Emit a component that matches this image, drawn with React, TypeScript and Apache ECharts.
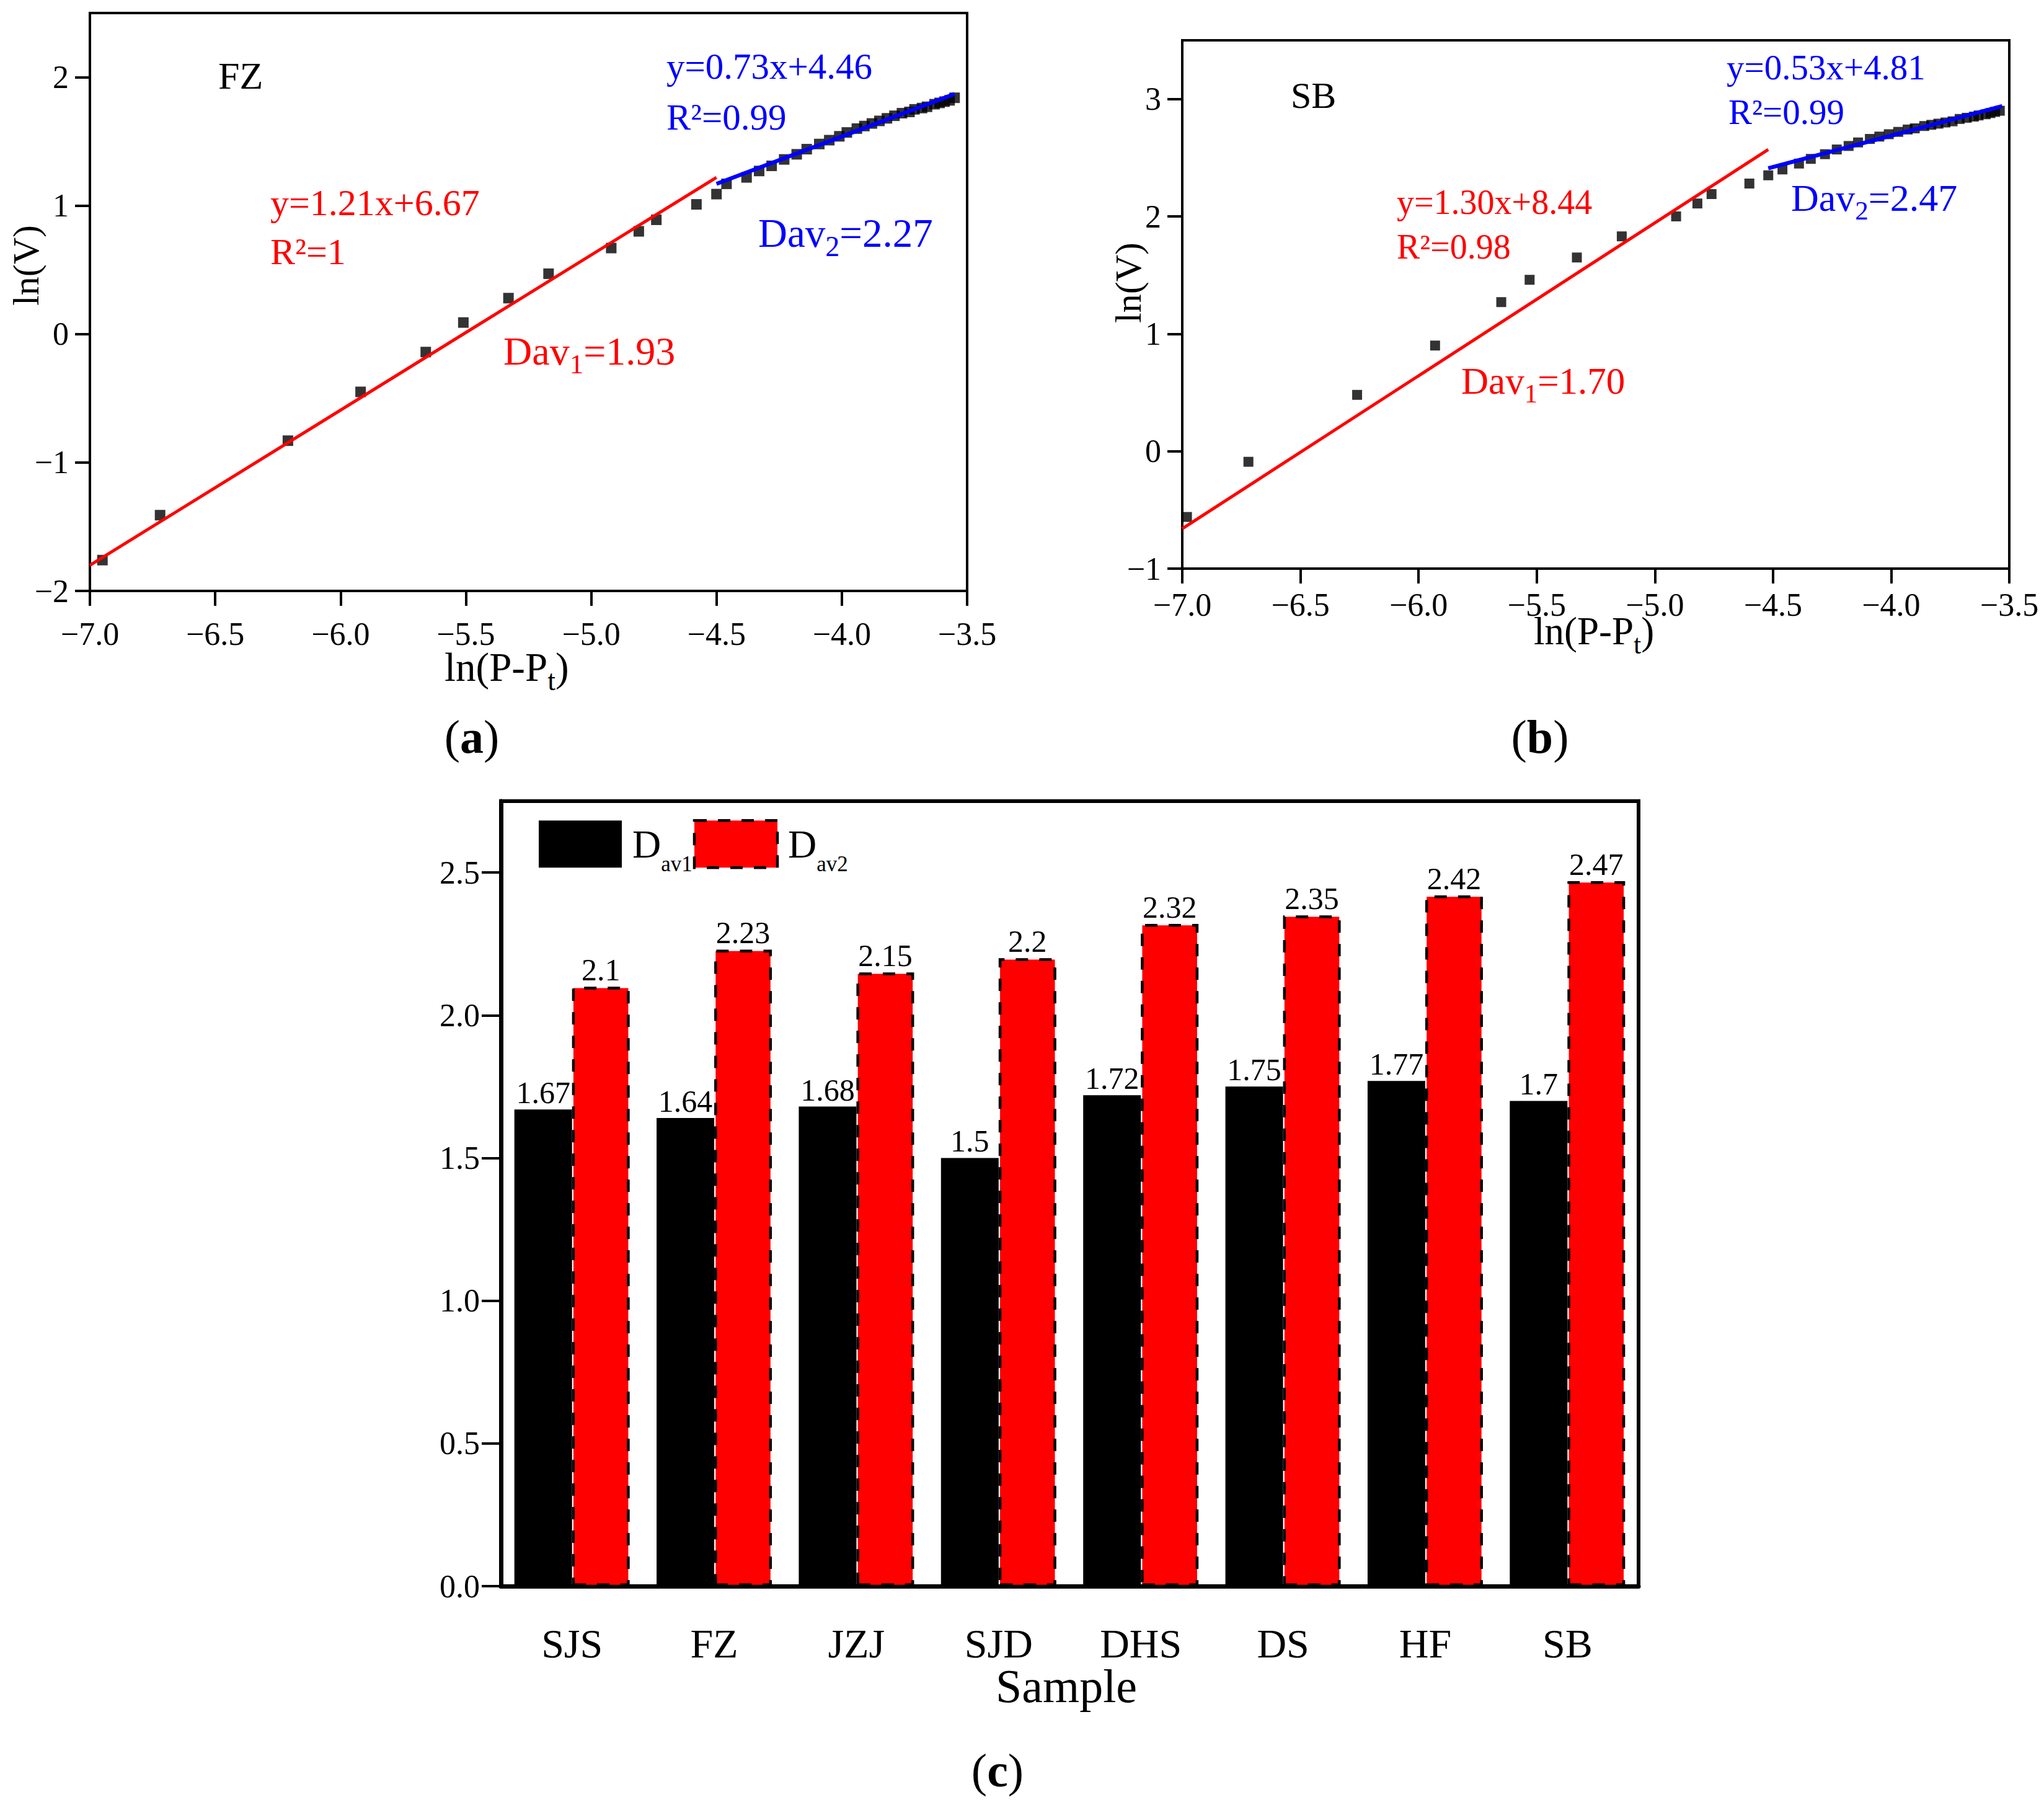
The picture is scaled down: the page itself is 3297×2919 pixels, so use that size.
import { useEffect, useRef } from 'react'
import * as echarts from 'echarts'

const FONT = "'Liberation Serif', 'Times New Roman', serif"

// (a) FZ: ln(P-Pt) vs ln(V)
const fzX = [-6.95, -6.72, -6.21, -5.92, -5.66, -5.51, -5.33, -5.17, -4.92, -4.81, -4.74, -4.58, -4.50, -4.46, -4.38, -4.33, -4.28, -4.23, -4.18, -4.14, -4.09, -4.05, -4.01, -3.98, -3.94, -3.91, -3.88, -3.85, -3.82, -3.79, -3.76, -3.73, -3.71, -3.68, -3.66, -3.63, -3.61, -3.59, -3.57, -3.55]
const fzY = [-1.76, -1.41, -0.83, -0.45, -0.14, 0.09, 0.28, 0.47, 0.67, 0.80, 0.89, 1.01, 1.09, 1.17, 1.22, 1.27, 1.31, 1.36, 1.40, 1.44, 1.48, 1.51, 1.54, 1.57, 1.60, 1.62, 1.64, 1.66, 1.68, 1.70, 1.72, 1.73, 1.75, 1.76, 1.77, 1.79, 1.80, 1.81, 1.82, 1.84]
const fzFitLow = [[-7.0, -1.80], [-4.50, 1.22]]
const fzFitHigh = [[-4.50, 1.17], [-3.55, 1.87]]

// (b) SB
const sbX = [-6.98, -6.72, -6.26, -5.93, -5.65, -5.53, -5.33, -5.14, -4.91, -4.82, -4.76, -4.60, -4.52, -4.46, -4.39, -4.34, -4.28, -4.23, -4.18, -4.14, -4.09, -4.05, -4.01, -3.97, -3.93, -3.90, -3.86, -3.83, -3.80, -3.77, -3.74, -3.71, -3.68, -3.65, -3.63, -3.60, -3.58, -3.56, -3.54]
const sbY = [-0.56, -0.09, 0.48, 0.90, 1.27, 1.46, 1.65, 1.83, 2.00, 2.11, 2.19, 2.28, 2.35, 2.40, 2.45, 2.49, 2.53, 2.57, 2.60, 2.63, 2.66, 2.68, 2.70, 2.72, 2.74, 2.75, 2.77, 2.78, 2.79, 2.80, 2.81, 2.83, 2.84, 2.85, 2.86, 2.87, 2.88, 2.89, 2.90]
const sbFitLow = [[-7.0, -0.66], [-4.52, 2.57]]
const sbFitHigh = [[-4.52, 2.41], [-3.53, 2.94]]

// (c) fractal dimensions per sample
const samples = ['SJS', 'FZ', 'JZJ', 'SJD', 'DHS', 'DS', 'HF', 'SB']
const dav1 = [1.67, 1.64, 1.68, 1.5, 1.72, 1.75, 1.77, 1.7]
const dav2 = [2.1, 2.23, 2.15, 2.2, 2.32, 2.35, 2.42, 2.47]

const xTicks = [-7, -6.5, -6, -5.5, -5, -4.5, -4, -3.5]
const aYTicks = [-2, -1, 0, 1, 2]
const bYTicks = [-1, 0, 1, 2, 3]
const cYTicks = [0, 0.5, 1, 1.5, 2, 2.5]

const RED = '#ff0000'
const BLUE = '#0000ff'
const minus = (s: string) => s.replace('-', '\u2212')

function subRich(size: number, color: string) {
  return {
    m: { fontSize: size, fontFamily: FONT, fill: color },
    s: { fontSize: Math.round(size * 0.7), fontFamily: FONT, fill: color, padding: [Math.round(size * 0.66), 0, 0, 0] },
    b: { fontSize: size, fontFamily: FONT, fill: color, fontWeight: 'bold' },
  }
}

function txt(text: string, x: number, y: number, size: number, color = '#000', extra: any = {}) {
  return {
    type: 'text', x, y, silent: true, ...extra,
    style: { text, rich: subRich(size, color), fontSize: size, fontFamily: FONT, fill: color, align: extra.align || 'left', verticalAlign: 'middle' },
  }
}

function valueAxis(gridIndex: number, min: number, max: number, interval: number, ticks: number[], fmt: (v: number) => string, margin: number, tickLen: number) {
  return {
    type: 'value', gridIndex, min, max, interval,
    splitLine: { show: false },
    axisLine: { show: true, onZero: false, lineStyle: { color: '#000', width: 4 } },
    axisTick: { show: true, customValues: ticks, length: tickLen, lineStyle: { color: '#000', width: 4 } },
    axisLabel: { customValues: ticks, formatter: fmt, color: '#000', fontFamily: FONT, fontSize: 52, margin },
  }
}

export default function App() {
  const ref = useRef<HTMLDivElement>(null)

  useEffect(() => {
    if (!ref.current) return
    const chart = echarts.init(ref.current, undefined, { renderer: 'svg' })
    const xFmt = (v: number) => minus(v.toFixed(1))
    const yFmt = (v: number) => minus(String(v))
    const barLabel = { show: true, position: 'top', distance: 2, color: '#000', fontFamily: FONT, fontSize: 50 }

    chart.setOption({
      animation: false,
      backgroundColor: '#fff',
      textStyle: { fontFamily: FONT, color: '#000' },
      grid: [
        { left: 145, top: 21, width: 1415, height: 932, show: true, borderColor: '#000', borderWidth: 4 },
        { left: 1907, top: 65, width: 1334, height: 852, show: true, borderColor: '#000', borderWidth: 4 },
        { left: 808, top: 1292, width: 1835, height: 1266, show: true, borderColor: '#000', borderWidth: 6 },
      ],
      xAxis: [
        valueAxis(0, -7, -3.5, 0.5, xTicks, xFmt, 43, 24),
        valueAxis(1, -7, -3.5, 0.5, xTicks, xFmt, 32, 24),
        {
          type: 'category', gridIndex: 2, data: samples,
          axisLine: { lineStyle: { color: '#000', width: 7 } },
          axisTick: { alignWithLabel: true, length: 33, lineStyle: { color: '#000', width: 3.5 } },
          axisLabel: { color: '#000', fontFamily: FONT, fontSize: 66, margin: 59 },
        },
      ],
      yAxis: [
        valueAxis(0, -2, 2.5, 1, aYTicks, yFmt, 34, 24),
        valueAxis(1, -1, 3.5, 1, bYTicks, yFmt, 34, 24),
        {
          ...valueAxis(2, 0, 2.75, 0.25, cYTicks, (v: number) => v.toFixed(1), 34, 31),
          axisLine: { show: true, onZero: false, lineStyle: { color: '#000', width: 7 } },
        },
      ],
      legend: {
        left: 869, top: 1321, padding: 0, itemWidth: 134, itemHeight: 76, itemGap: 1, icon: 'rect',
        selectedMode: false,
        data: [
          { name: 'Dav1', itemStyle: { color: '#000', borderWidth: 0 } },
          { name: 'Dav2', itemStyle: { color: RED, borderColor: '#000', borderWidth: 4.5, borderType: [20, 18] } },
        ],
        formatter: (n: string) => (n === 'Dav1' ? '{d|D}{s|av1}' : '{d|D}{s|av2}'),
        textStyle: {
          fontFamily: FONT,
          rich: {
            d: { fontSize: 64, fontFamily: FONT, color: '#000', padding: [0, 0, 0, 12] },
            s: { fontSize: 35, fontFamily: FONT, color: '#000', padding: [64, 0, 0, 0] },
          },
        },
      },
      series: [
        { type: 'scatter', xAxisIndex: 0, yAxisIndex: 0, symbol: 'rect', symbolSize: 17, itemStyle: { color: '#000' }, data: fzX.map((x, i) => [x, fzY[i]]), silent: true },
        { type: 'line', xAxisIndex: 0, yAxisIndex: 0, data: fzFitLow, showSymbol: false, lineStyle: { color: RED, width: 5 }, silent: true },
        { type: 'line', xAxisIndex: 0, yAxisIndex: 0, data: fzFitHigh, showSymbol: false, lineStyle: { color: BLUE, width: 6.5 }, silent: true },
        { type: 'scatter', xAxisIndex: 1, yAxisIndex: 1, symbol: 'rect', symbolSize: 16, itemStyle: { color: '#000' }, data: sbX.map((x, i) => [x, sbY[i]]), silent: true },
        { type: 'line', xAxisIndex: 1, yAxisIndex: 1, data: sbFitLow, showSymbol: false, lineStyle: { color: RED, width: 5 }, silent: true },
        { type: 'line', xAxisIndex: 1, yAxisIndex: 1, data: sbFitHigh, showSymbol: false, lineStyle: { color: BLUE, width: 6.5 }, silent: true },
        {
          name: 'Dav1', type: 'bar', xAxisIndex: 2, yAxisIndex: 2, data: dav1, barWidth: 93, barGap: '0%',
          itemStyle: { color: '#000' }, label: barLabel, silent: true,
        },
        {
          name: 'Dav2', type: 'bar', xAxisIndex: 2, yAxisIndex: 2, data: dav2, barWidth: 93, barGap: '0%',
          itemStyle: { color: RED, borderColor: '#000', borderWidth: 4.5, borderType: [20, 18] },
          label: barLabel, silent: true,
        },
      ],
      graphic: [
        // panel (a)
        txt('FZ', 352, 122, 62),
        txt('y=0.73x+4.46', 1075, 107, 59, BLUE),
        txt('R\u00b2=0.99', 1075, 189, 59, BLUE),
        txt('y=1.21x+6.67', 436, 327, 60, RED),
        txt('R\u00b2=1', 436, 406, 60, RED),
        txt('{m|Dav}{s|2}{m|=2.27}', 1223, 376, 65, BLUE),
        txt('{m|Dav}{s|1}{m|=1.93}', 812, 566, 64, RED),
        txt('{m|ln(P-P}{s|t}{m|)}', 717, 1076, 65),
        txt('ln(V)', 42, 428, 60, '#000', { rotation: Math.PI / 2, align: 'center' }),
        txt('{m|(}{b|a}{m|)}', 761, 1188, 76, '#000', { align: 'center' }),
        // panel (b)
        txt('SB', 2082, 154, 60),
        txt('y=0.53x+4.81', 2785, 108, 57, BLUE),
        txt('R\u00b2=0.99', 2788, 180, 57, BLUE),
        txt('y=1.30x+8.44', 2253, 326, 56, RED),
        txt('R\u00b2=0.98', 2253, 398, 56, RED),
        txt('{m|Dav}{s|2}{m|=2.47}', 2889, 319, 62, BLUE),
        txt('{m|Dav}{s|1}{m|=1.70}', 2357, 614, 61, RED),
        txt('{m|ln(P-P}{s|t}{m|)}', 2474, 1018, 63),
        txt('ln(V)', 1820, 456, 60, '#000', { rotation: Math.PI / 2, align: 'center' }),
        txt('{m|(}{b|b}{m|)}', 2484, 1188, 76, '#000', { align: 'center' }),
        // panel (c)
        txt('Sample', 1720, 2719, 76, '#000', { align: 'center' }),
        txt('{m|(}{b|c}{m|)}', 1609, 2855, 76, '#000', { align: 'center' }),
      ],
    })
    return () => chart.dispose()
  }, [])

  return <div ref={ref} style={{ position: 'absolute', left: 0, top: 0, width: 3297, height: 2919 }} />
}
